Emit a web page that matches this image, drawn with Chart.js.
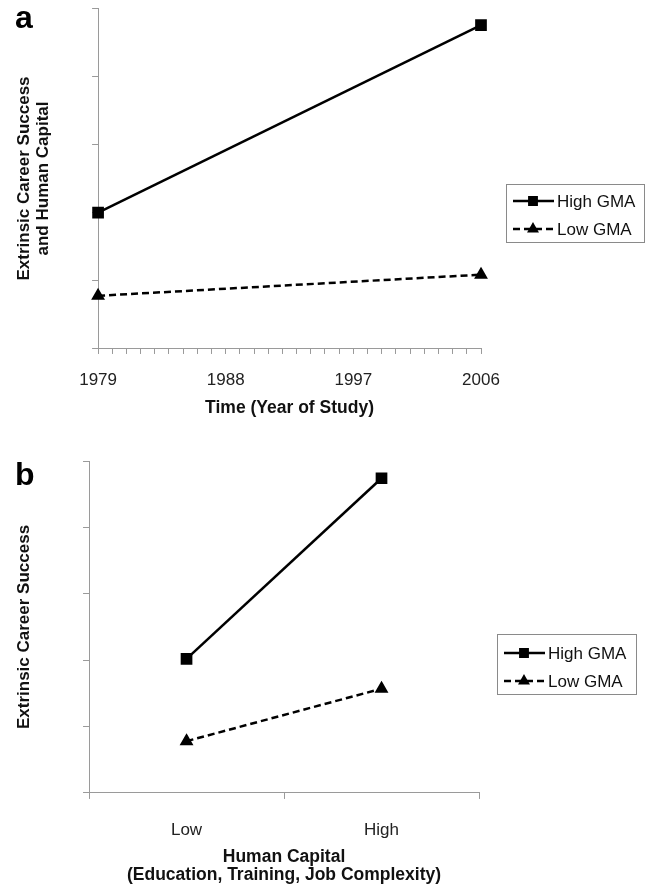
<!DOCTYPE html>
<html>
<head>
<meta charset="utf-8">
<script src="https://cdn.jsdelivr.net/npm/chart.js@4.4.1/dist/chart.umd.min.js"></script>
<style>
  body { margin: 0; background: #fff; width: 652px; height: 888px; position: relative; overflow: hidden; }
  canvas { position: absolute; left: 0; }
  .panel { position: absolute; font: bold 32px/32px "Liberation Sans", Arial, sans-serif; color: #000; }
</style>
</head>
<body>
<canvas id="chartA" width="652" height="430" style="top:0"></canvas>
<canvas id="chartB" width="652" height="448" style="top:440px"></canvas>
<div class="panel" style="left:15px; top:1px;">a</div>
<div class="panel" style="left:15px; top:458px;">b</div>
<script>
// panel a: over time
const years = [1979, 2006];
const yearLabels = [1979, 1988, 1997, 2006];
const highGMA_time = [2.0, 4.75];
const lowGMA_time = [0.78, 1.09];

// panel b: by human capital
const capitalLevels = ['Low', 'High'];
const highGMA_capital = [2.02, 4.74];
const lowGMA_capital = [0.78, 1.57];

const seriesNames = ['High GMA', 'Low GMA'];

const FONT = '"Liberation Sans", Arial, sans-serif';
const AXIS_GREY = '#9a9a9a';

Chart.defaults.font.family = FONT;
Chart.defaults.color = '#222';

// legend box drawn next to the plot, line + marker like the original
const legendBox = {
    id: 'legendBox',
    afterDraw(chart, args, opts) {
        const ctx = chart.ctx;
        ctx.save();
        ctx.strokeStyle = '#8a8a8a';
        ctx.lineWidth = 1;
        ctx.strokeRect(opts.x + 0.5, opts.y + 0.5, opts.w, opts.h);
        ctx.font = '17px ' + FONT;
        ctx.textBaseline = 'middle';
        chart.data.datasets.forEach((ds, i) => {
            const ry = opts.y + opts.rowTop + i * opts.rowGap;
            ctx.beginPath();
            ctx.setLineDash(ds.borderDash || []);
            ctx.lineWidth = ds.borderWidth;
            ctx.strokeStyle = ds.borderColor;
            ctx.moveTo(opts.x + 7, ry);
            ctx.lineTo(opts.x + 48, ry);
            ctx.stroke();
            ctx.setLineDash([]);
            ctx.fillStyle = ds.pointBackgroundColor;
            ctx.strokeStyle = ds.pointBorderColor;
            Chart.helpers.drawPoint(ctx, { pointStyle: ds.pointStyle, radius: ds.pointRadius * 0.8, borderWidth: 1, rotation: 0 }, opts.x + 27, ry);
            ctx.fillStyle = '#111';
            ctx.fillText(ds.label, opts.x + 51, ry + 1);
        });
        ctx.restore();
    }
};

function makeDatasets(high, low, xs) {
    const pts = (vals) => xs ? xs.map((x, i) => ({ x: x, y: vals[i] })) : vals;
    return [
        {
            label: seriesNames[0],
            data: pts(high),
            borderColor: '#000',
            borderWidth: 2.5,
            pointStyle: 'rect',
            pointRadius: 6.5,
            pointBackgroundColor: '#000',
            pointBorderColor: '#000',
            clip: false
        },
        {
            label: seriesNames[1],
            data: pts(low),
            borderColor: '#000',
            borderWidth: 2.5,
            borderDash: [7, 4],
            pointStyle: 'triangle',
            pointRadius: 5.5,
            pointBackgroundColor: '#000',
            pointBorderColor: '#000',
            clip: false
        }
    ];
}

function yScale(titleText, padTop, padBottom) {
    return {
        min: 0,
        max: 5,
        ticks: { stepSize: 1, display: false },
        grid: { drawOnChartArea: false, tickLength: 6, color: AXIS_GREY },
        border: { color: AXIS_GREY, width: 1 },
        title: {
            display: true,
            text: titleText,
            color: '#111',
            font: { size: 17, weight: 'bold', lineHeight: 1.12 },
            padding: { top: padTop, bottom: padBottom }
        }
    };
}

// note: chart.js counts tick padding twice in the axis height, so the title top padding is pulled back
new Chart(document.getElementById('chartA'), {
    type: 'line',
    data: { datasets: makeDatasets(highGMA_time, lowGMA_time, years) },
    options: {
        responsive: false,
        animation: false,
        devicePixelRatio: 1,
        layout: { autoPadding: false, padding: { top: 8, right: 171, bottom: 0, left: 0 } },
        plugins: {
            legend: { display: false },
            tooltip: { enabled: false },
            legendBox: { x: 506, y: 184, w: 138, h: 58, rowTop: 17, rowGap: 28 }
        },
        scales: {
            x: {
                type: 'linear',
                min: years[0],
                max: years[years.length - 1],
                ticks: {
                    stepSize: 1,
                    autoSkip: false,
                    maxRotation: 0,
                    padding: 16,
                    font: { size: 17 },
                    callback: (v) => yearLabels.includes(v) ? String(v) : ''
                },
                grid: { drawOnChartArea: false, tickLength: 5, color: AXIS_GREY },
                border: { color: AXIS_GREY, width: 1 },
                title: {
                    display: true,
                    text: 'Time (Year of Study)',
                    color: '#111',
                    font: { size: 17.5, weight: 'bold', lineHeight: 1.03 },
                    padding: { top: -7.4, bottom: 13 }
                }
            },
            y: yScale(['Extrinsic Career Success', 'and Human Capital'], 14.5, 39.5)
        }
    },
    plugins: [legendBox]
});

new Chart(document.getElementById('chartB'), {
    type: 'line',
    data: { labels: capitalLevels, datasets: makeDatasets(highGMA_capital, lowGMA_capital) },
    options: {
        responsive: false,
        animation: false,
        devicePixelRatio: 1,
        layout: { autoPadding: false, padding: { top: 21, right: 173, bottom: 0, left: 0 } },
        plugins: {
            legend: { display: false },
            tooltip: { enabled: false },
            legendBox: { x: 497, y: 194, w: 139, h: 60, rowTop: 19, rowGap: 28 }
        },
        scales: {
            x: {
                type: 'category',
                offset: true,
                ticks: { padding: 21, font: { size: 17 }, maxRotation: 0 },
                grid: { offset: true, drawOnChartArea: false, tickLength: 6, color: AXIS_GREY },
                border: { color: AXIS_GREY, width: 1 },
                title: {
                    display: true,
                    text: ['Human Capital', '(Education, Training, Job Complexity)'],
                    color: '#111',
                    font: { size: 17.5, weight: 'bold', lineHeight: 1.03 },
                    padding: { top: -13.4, bottom: 4 }
                }
            },
            y: yScale('Extrinsic Career Success', 14.5, 49.5)
        }
    },
    plugins: [legendBox]
});
</script>
</body>
</html>
